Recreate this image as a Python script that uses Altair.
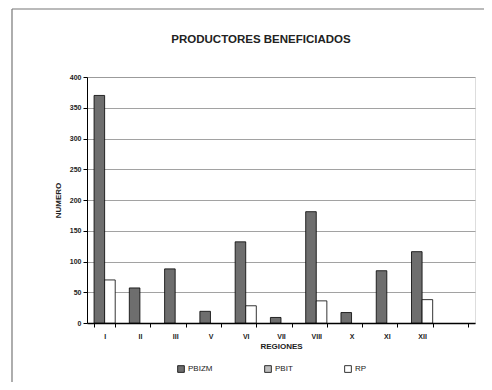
import altair as alt
import pandas as pd

regions = ["I", "II", "III", "V", "VI", "VII", "VIII", "X", "XI", "XII"]
pbizm = [370, 57, 88, 19, 132, 9, 181, 17, 85, 116]
rp = [70, 0, 0, 0, 28, 0, 36, 0, 0, 38]
series = ["PBIZM", "PBIT", "RP"]
series_colors = ["#6e6e6e", "#bdbdbd", "#ffffff"]
y_ticks = [0, 50, 100, 150, 200, 250, 300, 350, 400]

rows = []
for r, a, b in zip(regions, pbizm, rp):
    rows.append({"region": r, "series": "PBIZM", "value": a})
    if b > 0:
        rows.append({"region": r, "series": "RP", "value": b})
df = pd.DataFrame(rows)

FONT = "Liberation Sans"

bars = alt.Chart(df).mark_bar(stroke="black", strokeWidth=0.8).encode(
    x=alt.X(
        "region:N",
        sort=None,
        scale=alt.Scale(domain=regions + [" "], paddingInner=0.4, paddingOuter=0.2),
        axis=alt.Axis(
            title="REGIONES", labelAngle=0, labelFontSize=7, labelFontWeight="bold",
            labelFont=FONT, labelColor="#222", titleFont=FONT, titleFontSize=8,
            titleFontWeight="bold", titleColor="#222", titlePadding=3, labelPadding=5,
            tickBand="extent", tickSize=4, tickColor="black", domainColor="black",
            domainWidth=1.5, grid=False,
        ),
    ),
    xOffset=alt.XOffset("series:N", scale=alt.Scale(domain=["PBIZM", "RP"])),
    y=alt.Y(
        "value:Q",
        scale=alt.Scale(domain=[0, 400], nice=False),
        axis=alt.Axis(
            title="NUMERO", values=y_ticks, labelFontSize=7, labelFontWeight="bold",
            labelFont=FONT, labelColor="#222", titleFont=FONT, titleFontSize=8,
            titleFontWeight="bold", titleColor="#222", titlePadding=7,
            tickSize=4, tickColor="black", domainColor="black", domainWidth=1,
            gridColor="#8a8a8a", gridWidth=0.8,
        ),
    ),
    color=alt.Color(
        "series:N",
        scale=alt.Scale(domain=series, range=series_colors),
        legend=alt.Legend(
            title=None, orient="none", legendX=90, legendY=288, direction="horizontal",
            symbolType="square", symbolSize=45, symbolStrokeColor="black",
            symbolStrokeWidth=0.8, labelFontSize=8, labelFont=FONT, labelColor="#222",
            columnPadding=50, labelOffset=3,
        ),
    ),
)

frame_src = alt.Data(values=[{}])
frame_style = dict(color="#777777", strokeWidth=1.2)
frame_top = alt.Chart(frame_src).mark_rule(**frame_style).encode(
    x=alt.value(-75), x2=alt.value(412), y=alt.value(-68))
frame_bottom = alt.Chart(frame_src).mark_rule(**frame_style).encode(
    x=alt.value(-75), x2=alt.value(412), y=alt.value(310))
frame_left = alt.Chart(frame_src).mark_rule(**frame_style).encode(
    x=alt.value(-75), y=alt.value(-68), y2=alt.value(310))

chart = alt.layer(frame_top, frame_bottom, frame_left, bars).properties(
    width=388,
    height=246,
    autosize="none",
    padding={"left": 79, "top": 69, "right": 9, "bottom": 59},
    title=alt.TitleParams(
        "PRODUCTORES BENEFICIADOS", fontSize=11.5, fontWeight="bold", font=FONT,
        color="#222", anchor="middle", dx=-20, offset=0, dy=37,
    ),
).configure_view(stroke=None).configure(background="white")

chart.save("out.html", embed_options={"renderer": "svg", "actions": False})
